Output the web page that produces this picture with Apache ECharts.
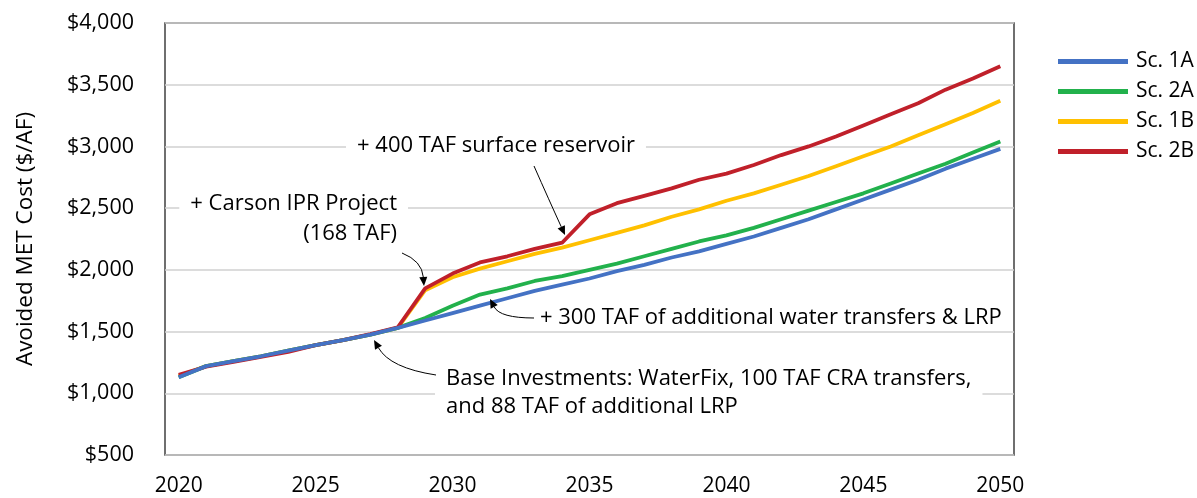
<!DOCTYPE html>
<html>
<head>
<meta charset="utf-8">
<script src="https://cdn.jsdelivr.net/npm/echarts@6/dist/echarts.min.js"></script>
<style>
  html, body { margin: 0; padding: 0; background: #fff; }
  #chart { width: 1197px; height: 498px; }
</style>
</head>
<body>
<div id="chart"></div>
<script>
var years = [];
for (var y = 2020; y <= 2050; y++) years.push(String(y));

var sc1A = [1130, 1220, 1260, 1300, 1345, 1390, 1430, 1475, 1530, 1590, 1650, 1710, 1770, 1830, 1880, 1930,
  1990, 2040, 2100, 2150, 2210, 2270, 2340, 2410, 2490, 2570, 2650, 2730, 2820, 2900, 2980];
var sc2A = [1130, 1220, 1260, 1300, 1345, 1390, 1430, 1475, 1530, 1610, 1710, 1800, 1850, 1910, 1950, 2000,
  2050, 2110, 2170, 2230, 2280, 2340, 2410, 2480, 2550, 2620, 2700, 2780, 2860, 2950, 3040];
var sc1B = [1140, 1220, 1260, 1300, 1345, 1390, 1430, 1475, 1530, 1835, 1940, 2010, 2070, 2130, 2180, 2240,
  2300, 2360, 2430, 2490, 2560, 2620, 2690, 2760, 2840, 2920, 3000, 3090, 3180, 3270, 3370];
var sc2B = [1150, 1215, 1255, 1295, 1335, 1390, 1430, 1480, 1535, 1850, 1970, 2060, 2110, 2170, 2220, 2450,
  2540, 2600, 2660, 2730, 2780, 2850, 2930, 3000, 3080, 3170, 3260, 3350, 3460, 3550, 3650];

var names = ['Sc. 1A', 'Sc. 2A', 'Sc. 1B', 'Sc. 2B'];
var colors = ['#4472C4', '#22B14C', '#FFC000', '#C0202A'];
var values = [sc1A, sc2A, sc1B, sc2B];
// drawing order: yellow under red, blue on top
var drawOrder = [2, 1, 3, 0];

var FONT = 'Open Sans';

// annotation arrow: quadratic curve plus a small filled head
function arrow(x1, y1, cx, cy, x2, y2) {
  var ang = Math.atan2(y2 - cy, x2 - cx);
  var len = 9, half = 4;
  var bx = x2 - len * Math.cos(ang), by = y2 - len * Math.sin(ang);
  var px = -Math.sin(ang) * half, py = Math.cos(ang) * half;
  return [
    {
      type: 'bezierCurve', z: 100,
      shape: { x1: x1, y1: y1, cpx1: cx, cpy1: cy, x2: bx, y2: by },
      style: { stroke: '#000', lineWidth: 1, fill: null }
    },
    {
      type: 'polygon', z: 100,
      shape: { points: [[x2, y2], [bx + px, by + py], [bx - px, by - py]] },
      style: { fill: '#000' }
    }
  ];
}

function note(text, x, y, align, bg) {
  return {
    type: 'text', z: 100, x: x, y: y,
    style: {
      text: text, fontFamily: FONT, fontSize: 22, fill: '#000',
      align: align, verticalAlign: 'middle', lineHeight: 28,
      backgroundColor: bg ? '#fff' : null, padding: bg ? [0, 11] : 0
    }
  };
}

var chart = echarts.init(document.getElementById('chart'));

var series = drawOrder.map(function (i) {
  return {
    name: names[i],
    type: 'line',
    data: values[i],
    symbol: 'none',
    lineStyle: { width: 3.8, color: colors[i] },
    itemStyle: { color: colors[i] }
  };
});

var graphics = []
  .concat(note('+ 400 TAF surface reservoir', 496, 146, 'center', true))
  .concat(note('+ Carson IPR Project', 408, 204, 'right', true))
  .concat(note('(168 TAF)', 397, 234, 'right', false))
  .concat(note('+ 300 TAF of additional water transfers & LRP', 540, 318, 'left', false))
  .concat(note('Base Investments: WaterFix, 100 TAF CRA transfers,\nand 88 TAF of additional LRP', 435, 393, 'left', true))
  .concat(arrow(534, 166, 549, 200, 565, 235))
  .concat(arrow(402, 253, 422, 261, 424, 286))
  .concat(arrow(534, 318, 500, 318, 490, 299))
  .concat(arrow(436, 375, 390, 368, 374, 340));

chart.setOption({
  animation: false,
  color: colors,
  grid: {
    left: 165, right: 183, top: 23, bottom: 43,
    show: true, borderColor: '#404040', borderWidth: 1.5, backgroundColor: 'transparent'
  },
  legend: {
    data: names,
    orient: 'vertical',
    left: 1053, top: 46,
    itemWidth: 70, itemHeight: 5, itemGap: 9,
    icon: 'rect',
    textStyle: { fontFamily: FONT, fontSize: 21, color: '#000', lineHeight: 21, padding: [0, 0, 0, 3] }
  },
  xAxis: {
    type: 'category',
    data: years,
    boundaryGap: true,
    axisLine: { show: false },
    axisTick: { show: false },
    axisLabel: {
      interval: 4, margin: 21,
      fontFamily: FONT, fontSize: 21, color: '#000'
    },
    splitLine: { show: false }
  },
  yAxis: {
    type: 'value',
    min: 500, max: 4000, interval: 500,
    name: 'Avoided MET Cost ($/AF)',
    nameLocation: 'middle',
    nameGap: 128,
    nameRotate: 90,
    nameTextStyle: { fontFamily: FONT, fontSize: 22.5, color: '#000' },
    axisLine: { show: false },
    axisTick: { show: false },
    axisLabel: {
      margin: 31, fontFamily: FONT, fontSize: 21.5, color: '#000',
      formatter: function (v) { return '$' + v.toLocaleString('en-US'); }
    },
    splitLine: { lineStyle: { color: '#d0d0d0', width: 1.5 } }
  },
  series: series,
  graphic: graphics
});
</script>
</body>
</html>
